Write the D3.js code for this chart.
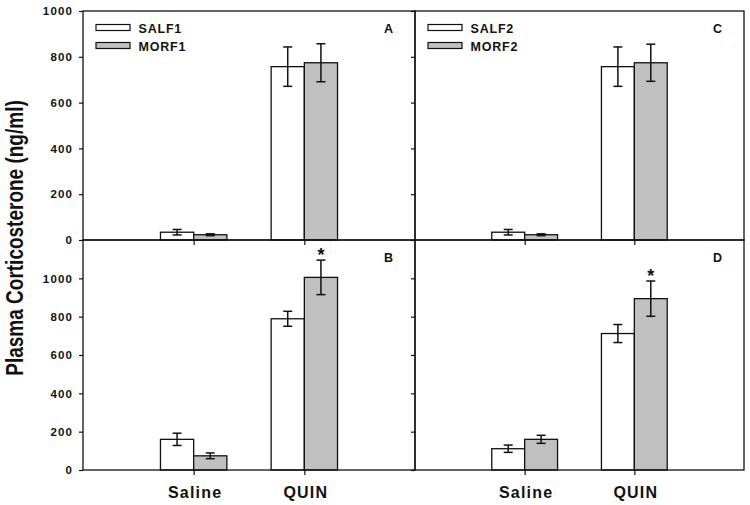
<!DOCTYPE html>
<html lang="en">
<head>
<meta charset="UTF-8">
<title>Plasma corticosterone</title>
<script src="https://cdn.jsdelivr.net/npm/d3@7"></script>
<style>
  body { margin: 0; background: #fff; }
  text { font-family: Arial, "Liberation Sans", sans-serif; font-weight: bold; fill: #111; }
</style>
</head>
<body>
<script>
// categories and series
var groups = ["Saline", "QUIN"];
var legendLeft = ["SALF1", "MORF1"];
var legendRight = ["SALF2", "MORF2"];

// panel A (top left)
var salf1A = [34, 757], salf1AErr = [12, 86];
var morf1A = [23, 774], morf1AErr = [4, 83];
// panel B (bottom left)
var salf1B = [160, 789], salf1BErr = [32, 39];
var morf1B = [74, 1005], morf1BErr = [15, 90];
// panel C (top right)
var salf2C = [34, 757], salf2CErr = [12, 86];
var morf2C = [23, 774], morf2CErr = [4, 81];
// panel D (bottom right)
var salf2D = [111, 712], salf2DErr = [19, 47];
var morf2D = [160, 894], morf2DErr = [21, 92];

// significance marks (on the grey bar of QUIN)
var starsB = [false, true];
var starsD = [false, true];

var topTicks = [0, 200, 400, 600, 800, 1000];
var bottomTicks = [0, 200, 400, 600, 800, 1000];

var W = 750, H = 505;
var left = 83, mid = 415, right = 744;
var top0 = 11, midY = 240, bottom = 470;

var svg = d3.select("body").append("svg")
  .attr("width", W).attr("height", H);

function drawPanel(p) {
  var g = svg.append("g");
  var x = d3.scaleLinear().domain([0, 3]).range([p.x0, p.x1]);
  var y = d3.scaleLinear().domain(p.domain).range([p.y1, p.y0]);
  var bw = x(0.3) - x(0);

  // y axis
  var yAxis = d3.axisLeft(y).tickValues(p.ticks).tickSize(4).tickPadding(7)
    .tickFormat(p.labels ? d3.format("d") : "");
  var ya = g.append("g")
    .attr("transform", "translate(" + p.x0 + ",0)")
    .call(yAxis);
  ya.select(".domain").remove();
  ya.selectAll("line").attr("stroke", "#111").attr("stroke-width", 1.2);
  ya.selectAll("text")
    .attr("font-size", 11.5)
    .attr("letter-spacing", 1.2)
    .attr("dx", 1.2)
    .style("font-family", "Arial, 'Liberation Sans', sans-serif")
    .style("font-weight", "bold")
    .attr("fill", "#111");

  // x axis ticks (labels only on bottom row)
  var xAxis = d3.axisBottom(x).tickValues([1, 2]).tickSize(5).tickPadding(10)
    .tickFormat(function (d) { return groups[d - 1]; });
  var xa = g.append("g")
    .attr("transform", "translate(0," + p.y1 + ")")
    .call(xAxis);
  xa.select(".domain").remove();
  xa.selectAll("line").attr("stroke", "#111").attr("stroke-width", 1.2);
  if (p.xlabels) {
    xa.selectAll("text")
      .attr("y", 0).attr("dy", 0)
      .attr("transform", "translate(1,28)")
      .attr("font-size", 16)
      .attr("letter-spacing", 1.2)
      .style("font-family", "Arial, 'Liberation Sans', sans-serif")
      .style("font-weight", "bold")
      .attr("fill", "#111");
  } else {
    xa.selectAll("text").remove();
  }

  // bars
  var series = [
    { vals: p.s1, errs: p.e1, fill: "#ffffff", off: -1 },
    { vals: p.s2, errs: p.e2, fill: "#c0c0c0", off: 0 }
  ];
  series.forEach(function (s, si) {
    var bars = g.append("g");
    bars.selectAll("rect")
      .data(s.vals)
      .enter().append("rect")
      .attr("x", function (d, i) { return x(i + 1) + s.off * bw; })
      .attr("y", function (d) { return y(d); })
      .attr("width", bw)
      .attr("height", function (d) { return y(0) - y(d); })
      .attr("fill", s.fill)
      .attr("stroke", "#111")
      .attr("stroke-width", 1.3);

    var cx = function (i) { return x(i + 1) + s.off * bw + bw / 2; };
    var eb = g.append("g").attr("stroke", "#111").attr("stroke-width", 1.5);
    s.vals.forEach(function (v, i) {
      var hi = y(v + s.errs[i]), lo = y(v - s.errs[i]);
      eb.append("line").attr("x1", cx(i)).attr("x2", cx(i)).attr("y1", hi).attr("y2", lo);
      eb.append("line").attr("x1", cx(i) - 4.5).attr("x2", cx(i) + 4.5).attr("y1", hi).attr("y2", hi);
      eb.append("line").attr("x1", cx(i) - 4.5).attr("x2", cx(i) + 4.5).attr("y1", lo).attr("y2", lo);
      if (si === 1 && p.stars && p.stars[i]) {
        g.append("text")
          .attr("x", cx(i))
          .attr("y", hi + 0.5)
          .attr("text-anchor", "middle")
          .attr("font-size", 18)
          .text("*");
      }
    });
  });

  // frame
  g.append("rect")
    .attr("x", p.x0).attr("y", p.y0)
    .attr("width", p.x1 - p.x0).attr("height", p.y1 - p.y0)
    .attr("fill", "none").attr("stroke", "#111").attr("stroke-width", 1.3);

  // panel letter
  g.append("text")
    .attr("x", p.x1 - 22)
    .attr("y", p.y0 + 21.5)
    .attr("text-anchor", "end")
    .attr("font-size", 12.5)
    .text(p.letter);

  // legend
  if (p.legend) {
    var lg = g.append("g");
    p.legend.forEach(function (name, i) {
      var ly = p.y0 + 13.5 + i * 18;
      lg.append("rect")
        .attr("x", p.x0 + 13).attr("y", ly)
        .attr("width", 34).attr("height", 6)
        .attr("fill", i === 0 ? "#ffffff" : "#c0c0c0")
        .attr("stroke", "#111").attr("stroke-width", 1.2);
      lg.append("text")
        .attr("x", p.x0 + 55.5)
        .attr("y", ly + 8)
        .attr("font-size", 12.5)
        .attr("letter-spacing", 0.8)
        .text(name);
    });
  }
}

drawPanel({ x0: left, x1: mid, y0: top0, y1: midY, domain: [0, 1000], ticks: topTicks,
  labels: true, xlabels: false, s1: salf1A, e1: salf1AErr, s2: morf1A, e2: morf1AErr,
  letter: "A", legend: legendLeft });
drawPanel({ x0: left, x1: mid, y0: midY, y1: bottom, domain: [0, 1200], ticks: bottomTicks,
  labels: true, xlabels: true, s1: salf1B, e1: salf1BErr, s2: morf1B, e2: morf1BErr,
  letter: "B", stars: starsB });
drawPanel({ x0: mid, x1: right, y0: top0, y1: midY, domain: [0, 1000], ticks: topTicks,
  labels: false, xlabels: false, s1: salf2C, e1: salf2CErr, s2: morf2C, e2: morf2CErr,
  letter: "C", legend: legendRight });
drawPanel({ x0: mid, x1: right, y0: midY, y1: bottom, domain: [0, 1200], ticks: bottomTicks,
  labels: false, xlabels: true, s1: salf2D, e1: salf2DErr, s2: morf2D, e2: morf2DErr,
  letter: "D", stars: starsD });

// y axis title
svg.append("text")
  .attr("transform", "translate(22.5,238) scale(1.25,1) rotate(-90)")
  .attr("text-anchor", "middle")
  .attr("font-size", 19)
  .text("Plasma Corticosterone (ng/ml)");
</script>
</body>
</html>
